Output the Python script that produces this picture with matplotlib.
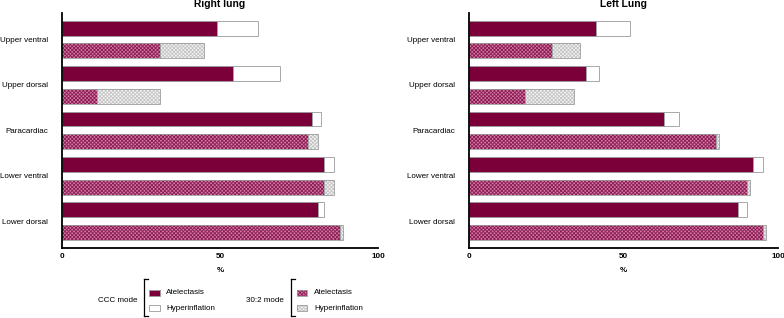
import matplotlib
matplotlib.use("Agg")
import matplotlib.pyplot as plt
from matplotlib.patches import Rectangle
from matplotlib.lines import Line2D
import numpy as np

plt.rcParams['font.family'] = ['Liberation Sans', 'DejaVu Sans']
plt.rcParams['hatch.linewidth'] = 0.6

regions = ['Upper ventral', 'Upper dorsal', 'Paracardiac', 'Lower ventral', 'Lower dorsal']

right_ccc_atel = [49, 54, 79, 83, 81]
right_ccc_hyper = [13, 15, 3, 3, 2]
right_302_atel = [31, 11, 78, 83, 88]
right_302_hyper = [14, 20, 3, 3, 1]

left_ccc_atel = [41, 38, 63, 92, 87]
left_ccc_hyper = [11, 4, 5, 3, 3]
left_302_atel = [27, 18, 80, 90, 95]
left_302_hyper = [9, 16, 1, 1, 1]

x_ticks = [0, 50, 100]
x_ticklabels = ['0', '50', '100']

MAROON = '#7b0039'
PINK_FACE = '#d27aa6'
HATCH_M = '#8a1a50'
EDGE = '#9a9a9a'
HYP_FACE = '#f4f4f4'
HYP_HATCH = '#c4c4c4'
HATCH = 'xxxxxxxxx'

W, H = 784, 318
fig = plt.figure(figsize=(W / 100, H / 100), dpi=100)


def fx(px):
    return px / W


def fy(py):
    return (H - py) / H


FS = 5.8


def draw_panel(ax, title, ccc_a, ccc_h, m_a, m_h):
    n = len(regions)
    y_ccc = np.arange(n) * 2
    y_m = np.arange(n) * 2 + 1
    h = 0.66
    ccc_a = np.array(ccc_a); ccc_h = np.array(ccc_h)
    m_a = np.array(m_a); m_h = np.array(m_h)
    # CCC mode
    ax.barh(y_ccc, ccc_a, height=h, color=MAROON, edgecolor=EDGE, linewidth=0.6)
    ax.barh(y_ccc, ccc_h, left=ccc_a, height=h, color='white', edgecolor=EDGE, linewidth=0.6)
    # 30:2 mode (hatched)
    ax.barh(y_m, m_a, height=h, color=PINK_FACE, edgecolor=HATCH_M, linewidth=0, hatch=HATCH)
    ax.barh(y_m, m_a, height=h, fill=False, edgecolor=EDGE, linewidth=0.6)
    ax.barh(y_m, m_h, left=m_a, height=h, color=HYP_FACE, edgecolor=HYP_HATCH, linewidth=0, hatch=HATCH)
    ax.barh(y_m, m_h, left=m_a, height=h, fill=False, edgecolor=EDGE, linewidth=0.6)

    ax.set_xlim(0, 100)
    ax.set_ylim(2 * n - 1 + 0.67, -0.67)
    ax.set_yticks(np.arange(n) * 2 + 0.5)
    ax.set_yticklabels(regions, fontsize=FS)
    ax.tick_params(axis='y', length=0, pad=10)
    ax.set_xticks(x_ticks)
    ax.set_xticklabels(x_ticklabels, fontsize=FS, fontweight='bold')
    ax.tick_params(axis='x', length=0, pad=4)
    ax.set_xlabel('%', fontsize=FS, fontweight='bold', labelpad=5)
    ax.set_title(title, fontsize=7.4, fontweight='bold', pad=4)
    for s in ['top', 'right']:
        ax.spines[s].set_visible(False)
    for s in ['left', 'bottom']:
        ax.spines[s].set_linewidth(1.3)
        ax.spines[s].set_color('black')


ax1 = fig.add_axes([fx(62), fy(247.7), fx(378) - fx(62), fy(13) - fy(247.7)])
ax2 = fig.add_axes([fx(469), fy(247.7), fx(778) - fx(469), fy(13) - fy(247.7)])

draw_panel(ax1, 'Right lung', right_ccc_atel, right_ccc_hyper, right_302_atel, right_302_hyper)
draw_panel(ax2, 'Left Lung', left_ccc_atel, left_ccc_hyper, left_302_atel, left_302_hyper)


def legend_group(label, text_right, bracket_x, patch_x, patch_w, text_x, styles):
    fig.text(fx(text_right), fy(300.5), label, fontsize=FS, ha='right', va='center')
    top, bot = 279, 316
    fig.add_artist(Line2D([fx(bracket_x), fx(bracket_x)], [fy(top), fy(bot)], color='black', lw=0.9))
    fig.add_artist(Line2D([fx(bracket_x), fx(bracket_x + 4)], [fy(top), fy(top)], color='black', lw=0.9))
    fig.add_artist(Line2D([fx(bracket_x), fx(bracket_x + 4)], [fy(bot), fy(bot)], color='black', lw=0.9))
    rows = [(292.5, 'Atelectasis'), (308, 'Hyperinflation')]
    for (yc, txt), st in zip(rows, styles):
        face, hatchc, hatch = st
        r = Rectangle((fx(patch_x), fy(yc + 3)), fx(patch_w), fy(0) - fy(6),
                      transform=fig.transFigure, facecolor=face,
                      edgecolor=hatchc if hatch else EDGE, linewidth=0 if hatch else 0.6,
                      hatch=hatch)
        fig.add_artist(r)
        if hatch:
            fig.add_artist(Rectangle((fx(patch_x), fy(yc + 3)), fx(patch_w), fy(0) - fy(6),
                                     transform=fig.transFigure, fill=False,
                                     edgecolor=EDGE, linewidth=0.6))
        fig.text(fx(text_x), fy(yc), txt, fontsize=FS, ha='left', va='center')


legend_group('CCC mode', 138, 144, 148.5, 11.5, 166,
             [(MAROON, None, None), ('white', None, None)])
legend_group('30:2 mode', 284, 291, 296.5, 10.5, 314,
             [(PINK_FACE, HATCH_M, HATCH), (HYP_FACE, HYP_HATCH, HATCH)])

fig.savefig('out.png', dpi=100)
